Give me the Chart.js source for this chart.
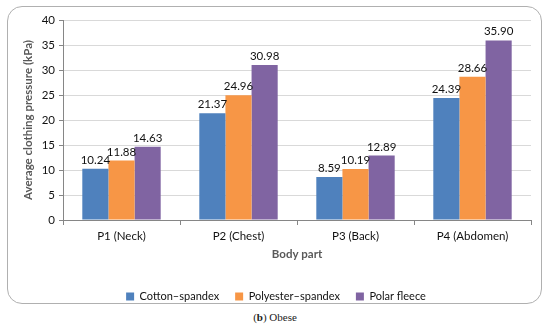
<!DOCTYPE html>
<html><head><meta charset="utf-8">
<script src="https://cdn.jsdelivr.net/npm/chart.js@4/dist/chart.umd.min.js"></script>
<style>
html,body{margin:0;padding:0;background:#fff;width:550px;height:326px;overflow:hidden}
#box{position:absolute;left:7px;top:6px;width:535px;height:298px;border:1px solid #b0b0b0;border-radius:15px;box-sizing:border-box;overflow:hidden}
#wrap{position:absolute;left:0;top:0;width:533px;height:308px}
#cap{position:absolute;left:0;top:311px;width:550px;text-align:center;font-family:"Liberation Serif","DejaVu Serif",serif;font-size:11px;color:#222}
</style></head><body>
<div id="box"><div id="wrap"><canvas id="c"></canvas></div></div>
<div id="cap">(<b>b</b>) Obese</div>
<script>
const categories = ["P1 (Neck)", "P2 (Chest)", "P3 (Back)", "P4 (Abdomen)"];
const cottonSpandex = [10.24, 21.37, 8.59, 24.39];
const polyesterSpandex = [11.88, 24.96, 10.19, 28.66];
const polarFleece = [14.63, 30.98, 12.89, 35.90];
const seriesNames = ["Cotton\u2013spandex", "Polyester\u2013spandex", "Polar fleece"];
const yTicks = [0, 5, 10, 15, 20, 25, 30, 35, 40];

const FONT = "Lato, 'Open Sans', sans-serif";
const labelPlugin = {
  id: 'valLabels',
  afterDatasetsDraw(chart) {
    const ctx = chart.ctx;
    ctx.save();
    ctx.font = "11.5px " + FONT;
    ctx.fillStyle = "#111";
    ctx.textAlign = "center";
    ctx.textBaseline = "bottom";
    chart.data.datasets.forEach((ds, i) => {
      chart.getDatasetMeta(i).data.forEach((bar, j) => {
        ctx.fillText(ds.data[j].toFixed(2), bar.x, bar.y - 3);
      });
    });
    ctx.restore();
  }
};

new Chart(document.getElementById('c'), {
  type: 'bar',
  data: {
    labels: categories,
    datasets: [
      {label: seriesNames[0], data: cottonSpandex, backgroundColor: '#4F81BD'},
      {label: seriesNames[1], data: polyesterSpandex, backgroundColor: '#F79646'},
      {label: seriesNames[2], data: polarFleece, backgroundColor: '#8064A2'}
    ]
  },
  options: {
    responsive: true,
    maintainAspectRatio: false,
    animation: false,
    layout: {padding: {left: 13, right: 10, top: 13, bottom: 3}},
    datasets: {bar: {categoryPercentage: 0.67, barPercentage: 1.0}},
    plugins: {
      legend: {
        position: 'bottom',
        labels: {boxWidth: 8, boxHeight: 8, padding: 16, color: '#111', font: {family: FONT, size: 11}}
      },
      tooltip: {enabled: false}
    },
    scales: {
      x: {
        grid: {display: true, drawOnChartArea: false, offset: true, color: '#868686', tickLength: 5},
        border: {color: '#868686'},
        ticks: {color: '#111', font: {family: FONT, size: 11.5}, padding: 4},
        title: {display: true, text: 'Body part', color: '#595959', font: {family: FONT, size: 11.5, weight: 'bold'}, padding: {top: 8, bottom: 14}},
        afterFit(s) { s.height = 55; }
      },
      y: {
        min: 0, max: 40,
        afterBuildTicks(s) { s.ticks = yTicks.map(v => ({value: v})); },
        grid: {color: '#d9d9d9', tickLength: 4, tickColor: '#868686'},
        border: {color: '#868686'},
        ticks: {color: '#111', font: {family: FONT, size: 11.5}, padding: 4},
        title: {display: true, text: 'Average clothing pressure (kPa)', color: '#595959', font: {family: FONT, size: 11.5, weight: 'bold'}, padding: {top: 0, bottom: 2}},
        afterFit(s) { s.width = 42; }
      }
    }
  },
  plugins: [labelPlugin]
});
</script>
</body></html>
